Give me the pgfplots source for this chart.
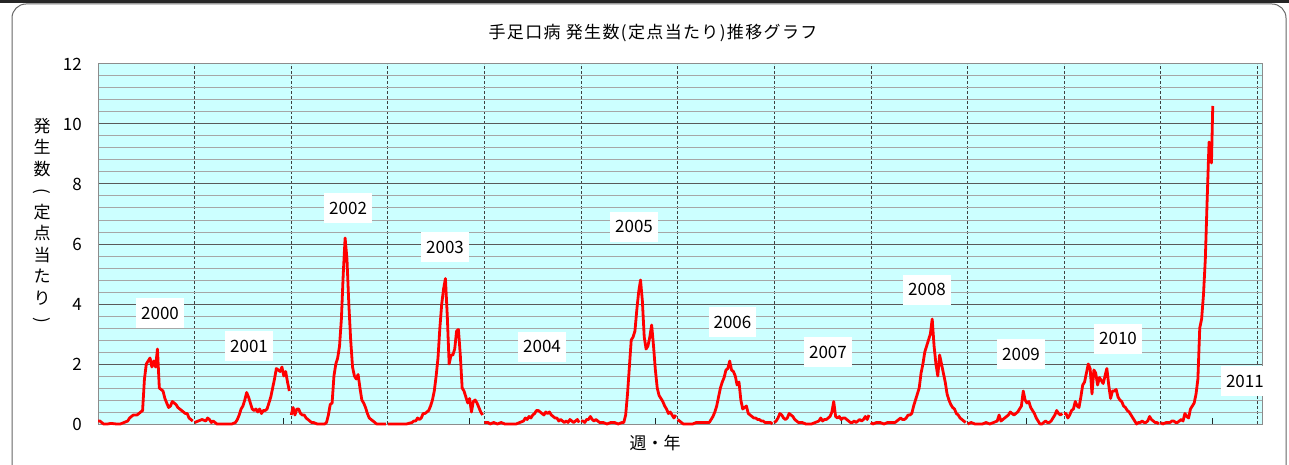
\documentclass[border=0pt]{standalone}
\usepackage{fontspec}
\setmainfont{Noto Sans CJK JP}
\newfontfamily\titlefont[LetterSpace=8]{Noto Sans CJK JP}
\usepackage{pgfplots}
\pgfplotsset{compat=1.18}
\definecolor{bgcyan}{RGB}{204,255,255}
\begin{document}
\begin{tikzpicture}
\useasboundingbox (0pt,0pt) rectangle (1289pt,464pt);
\fill[white] (0pt,0pt) rectangle (1289pt,464pt);
\fill[black!85] (0pt,461pt) rectangle (1289pt,464pt);
\draw[black!60, line width=1pt, rounded corners=14pt] (12pt,-5pt) -- (12pt,460pt) -- (1286pt,460pt) -- (1286pt,-5pt);
\begin{axis}[
  scale only axis, width=1164pt, height=360pt,
  at={(98pt,40pt)}, anchor=south west,
  xmin=0, xmax=626.5, ymin=0, ymax=12,
  axis background/.style={fill=bgcyan},
  axis line style={black!45, line width=1pt},
  xtick={52,104,...,624}, xticklabels={}, xtick pos=bottom, tick align=inside,
  xmajorgrids,
  x grid style={black!75, densely dashed, line width=0.8pt},
  x tick style={draw=none},
  extra x ticks={100,200,...,600},
  extra x tick labels={},
  extra x tick style={xmajorgrids=false, x tick style={draw=black!85, line width=1pt}, major tick length=6pt},
  ytick={0,2,...,12}, minor y tick num=4,
  y tick style={draw=none},
  ymajorgrids, yminorgrids,
  y grid style={line width=1pt},
  major y grid style={black!65, line width=1pt},
  minor y grid style={black!35, line width=1pt},
  yticklabel style={font=\fontsize{17}{17}\selectfont, anchor=east, inner sep=0pt, xshift=-16pt},
  /pgf/number format/assume math mode=true,
  clip=false,
  yr/.style={red, solid, no markers, line width=2.8pt, line join=round},
]
% 2000
\addplot[yr] coordinates {(0,0.1)(1,0.1)(2,0.05)(3,0)(5,0)(7,0.02)(10,0)(12,0)(14,0.05)(16,0.1)(17,0.2)(18,0.25)(19,0.3)(21,0.3)(22,0.35)(23,0.4)(24,0.45)(25,1.5)(26,2.0)(27,2.1)(28,2.2)(29,1.9)(30,2.1)(31,1.9)(32,2.5)(33,1.2)(34,1.15)(35,1.1)(36,0.85)(37,0.7)(38,0.55)(39,0.6)(40,0.75)(41,0.7)(42,0.65)(43,0.55)(44,0.5)(45,0.45)(46,0.4)(47,0.35)(48,0.35)(49,0.2)(50,0.15)(51,0.1)};
% 2001
\addplot[yr] coordinates {(52,0.05)(54,0.1)(56,0.15)(58,0.1)(59,0.2)(60,0.15)(61,0.05)(62,0.1)(64,0)(68,0)(72,0)(74,0.05)(75,0.15)(76,0.3)(77,0.5)(78,0.6)(79,0.8)(80,1.05)(81,0.9)(82,0.7)(83,0.5)(84,0.45)(85,0.5)(86,0.4)(87,0.5)(88,0.35)(89,0.45)(90,0.45)(91,0.5)(92,0.7)(93,0.9)(94,1.2)(95,1.5)(96,1.85)(97,1.8)(98,1.75)(99,1.9)(100,1.6)(101,1.75)(102,1.4)(103,1.1)};
% 2002
\addplot[yr] coordinates {(104,0.3)(105,0.55)(106,0.3)(107,0.5)(108,0.5)(109,0.35)(110,0.3)(111,0.3)(112,0.2)(113,0.15)(114,0.1)(115,0.05)(116,0.05)(118,0)(122,0)(123,0.05)(124,0.3)(125,0.65)(126,0.7)(127,1.6)(128,2.0)(129,2.2)(130,2.6)(131,3.5)(132,5.0)(133,6.2)(134,5.5)(135,4.0)(136,2.8)(137,1.9)(138,1.6)(139,1.5)(140,1.65)(141,1.2)(142,0.8)(143,0.7)(144,0.55)(145,0.35)(146,0.2)(147,0.15)(148,0.1)(149,0.05)(150,0)(155,0)};
% 2003
\addplot[yr] coordinates {(156,0)(160,0)(166,0)(169,0.05)(170,0.1)(171,0.1)(172,0.2)(173,0.15)(174,0.2)(175,0.35)(176,0.35)(177,0.4)(178,0.45)(179,0.6)(180,0.8)(181,1.1)(182,1.6)(183,2.2)(184,3.2)(185,4.0)(186,4.5)(187,4.85)(188,3.6)(189,2.0)(190,2.3)(191,2.3)(192,2.5)(193,3.1)(194,3.15)(195,2.3)(196,1.2)(197,1.1)(198,0.9)(199,0.7)(200,0.85)(201,0.4)(202,0.75)(203,0.8)(204,0.7)(205,0.55)(206,0.4)(207,0.3)};
% 2004
\addplot[yr] coordinates {(208,0.05)(210,0.05)(211,0)(213,0.05)(215,0)(217,0.05)(219,0)(222,0)(225,0)(227,0.05)(229,0.1)(230,0.2)(231,0.15)(232,0.25)(233,0.2)(234,0.3)(235,0.35)(236,0.45)(237,0.45)(238,0.4)(239,0.35)(240,0.3)(241,0.4)(242,0.35)(243,0.4)(244,0.3)(245,0.25)(246,0.2)(247,0.2)(248,0.1)(249,0.15)(250,0.1)(251,0.05)(252,0.1)(253,0.05)(254,0.15)(255,0.1)(256,0.05)(257,0.1)(258,0.15)(259,0.05)};
% 2005
\addplot[yr] coordinates {(260,0.1)(261,0.1)(262,0.05)(263,0.15)(264,0.15)(265,0.25)(266,0.15)(267,0.1)(268,0.15)(269,0.1)(270,0.05)(272,0.05)(274,0)(276,0.05)(278,0.05)(280,0)(282,0.05)(283,0.05)(284,0.3)(285,1.0)(286,1.9)(287,2.8)(288,2.9)(289,3.1)(290,3.8)(291,4.4)(292,4.8)(293,4.1)(294,2.9)(295,2.5)(296,2.6)(297,2.9)(298,3.3)(299,2.6)(300,1.8)(301,1.2)(302,0.95)(303,0.85)(304,0.75)(305,0.6)(306,0.5)(307,0.35)(308,0.4)(309,0.3)(310,0.2)(311,0.3)};
% 2006
\addplot[yr] coordinates {(312,0.15)(313,0.1)(314,0.05)(315,0)(320,0)(322,0.05)(326,0.05)(329,0.05)(330,0.15)(331,0.25)(332,0.4)(333,0.6)(334,0.9)(335,1.2)(336,1.4)(337,1.55)(338,1.8)(339,1.85)(340,2.1)(341,1.8)(342,1.75)(343,1.6)(344,1.3)(345,1.4)(346,0.8)(347,0.5)(348,0.55)(349,0.6)(350,0.35)(351,0.3)(352,0.25)(353,0.2)(354,0.2)(355,0.15)(356,0.15)(357,0.1)(358,0.1)(359,0.05)(360,0.05)(362,0.05)(363,0)};
% 2007
\addplot[yr] coordinates {(364,0.05)(365,0.1)(366,0.2)(367,0.35)(368,0.3)(369,0.2)(370,0.15)(371,0.2)(372,0.35)(373,0.3)(374,0.25)(375,0.15)(376,0.1)(377,0.05)(379,0.05)(381,0)(384,0)(386,0.05)(388,0.1)(389,0.2)(390,0.1)(391,0.15)(392,0.15)(393,0.2)(394,0.25)(395,0.4)(396,0.75)(397,0.25)(398,0.2)(399,0.25)(400,0.15)(401,0.2)(402,0.2)(403,0.15)(404,0.1)(405,0.05)(406,0.05)(407,0.1)(408,0.05)(409,0.1)(410,0.15)(411,0.1)(412,0.15)(413,0.25)(414,0.15)(415,0.3)};
% 2008
\addplot[yr] coordinates {(416,0.05)(417,0)(419,0.05)(421,0.05)(423,0)(425,0.05)(427,0.05)(429,0.05)(430,0.1)(431,0.15)(432,0.2)(433,0.15)(434,0.15)(435,0.2)(436,0.3)(437,0.3)(438,0.35)(439,0.6)(440,0.8)(441,1.0)(442,1.2)(443,1.7)(444,2.0)(445,2.4)(446,2.6)(447,2.8)(448,3.0)(449,3.5)(450,2.6)(451,2.0)(452,1.6)(453,2.3)(454,2.0)(455,1.7)(456,1.4)(457,1.0)(458,0.8)(459,0.65)(460,0.55)(461,0.5)(462,0.35)(463,0.3)(464,0.2)(465,0.15)(466,0.1)(467,0.05)};
% 2009
\addplot[yr] coordinates {(468,0)(470,0.05)(472,0)(476,0)(478,0.05)(480,0)(482,0.05)(484,0.1)(485,0.3)(486,0.1)(487,0.15)(488,0.2)(489,0.25)(490,0.3)(491,0.4)(492,0.35)(493,0.3)(494,0.35)(495,0.4)(496,0.5)(497,0.6)(498,1.1)(499,0.8)(500,0.7)(501,0.75)(502,0.55)(503,0.45)(504,0.35)(505,0.2)(506,0.1)(507,0)(508,0)(509,0.05)(510,0.1)(511,0.05)(512,0.05)(513,0.1)(514,0.2)(515,0.3)(516,0.45)(517,0.35)(518,0.3)(519,0.35)};
% 2010
\addplot[yr] coordinates {(520,0.35)(521,0.35)(522,0.2)(523,0.3)(524,0.45)(525,0.5)(526,0.75)(527,0.6)(528,0.55)(529,0.9)(530,1.3)(531,1.4)(532,1.7)(533,2.0)(534,1.85)(535,1.0)(536,1.8)(537,1.7)(538,1.3)(539,1.55)(540,1.45)(541,1.35)(542,1.6)(543,1.85)(544,1.3)(545,0.85)(546,1.1)(547,1.1)(548,1.15)(549,0.9)(550,0.8)(551,0.75)(552,0.6)(553,0.55)(554,0.45)(555,0.4)(556,0.3)(557,0.2)(558,0.1)(559,0)(560,0.05)(561,0.05)(562,0.1)(563,0.05)(564,0.05)(565,0.1)(566,0.25)(567,0.15)(568,0.1)(569,0.05)(570,0.05)(571,0)};
% 2011
\addplot[yr] coordinates {(572,0.05)(573,0)(575,0.05)(577,0.05)(578,0.1)(579,0.1)(580,0.05)(581,0.05)(582,0.1)(583,0.15)(584,0.1)(585,0.35)(586,0.25)(587,0.2)(588,0.5)(589,0.6)(590,0.7)(591,1.0)(592,1.5)(593,3.2)(594,3.5)(595,4.3)(596,5.5)(597,7.5)(598,9.4)(599,9.0)(599.3,8.7)(600,10.6)};
\tikzset{yl/.style={fill=white, inner xsep=5pt, inner ysep=0pt, minimum height=30pt, font=\fontsize{17}{17}\selectfont}}
\node[yl] at (axis cs:33.4,3.7) {2000};
\node[yl] at (axis cs:81.3,2.6) {2001};
\node[yl] at (axis cs:134.6,7.2) {2002};
\node[yl] at (axis cs:186.8,5.9) {2003};
\node[yl] at (axis cs:239,2.57) {2004};
\node[yl] at (axis cs:288.5,6.57) {2005};
\node[yl] at (axis cs:341.5,3.4) {2006};
\node[yl] at (axis cs:392.9,2.4) {2007};
\node[yl] at (axis cs:446.2,4.47) {2008};
\node[yl] at (axis cs:496.8,2.33) {2009};
\node[yl] at (axis cs:549,2.85) {2010};
\node[yl] at (axis cs:617.3,1.43) {2011};
\end{axis}
\node[font=\titlefont\fontsize{17}{17}\selectfont] at (653pt,431pt) {手足口病 発生数(定点当たり)推移グラフ};
\node[align=center, font=\fontsize{17}{21.5}\selectfont] at (42pt,242pt) {発\\生\\数\\\rotatebox[origin=c]{-90}{(}\\定\\点\\当\\た\\り\\\rotatebox[origin=c]{-90}{)}};
\node[font=\fontsize{17}{17}\selectfont] at (655pt,21pt) {週・年};
\end{tikzpicture}
\end{document}
